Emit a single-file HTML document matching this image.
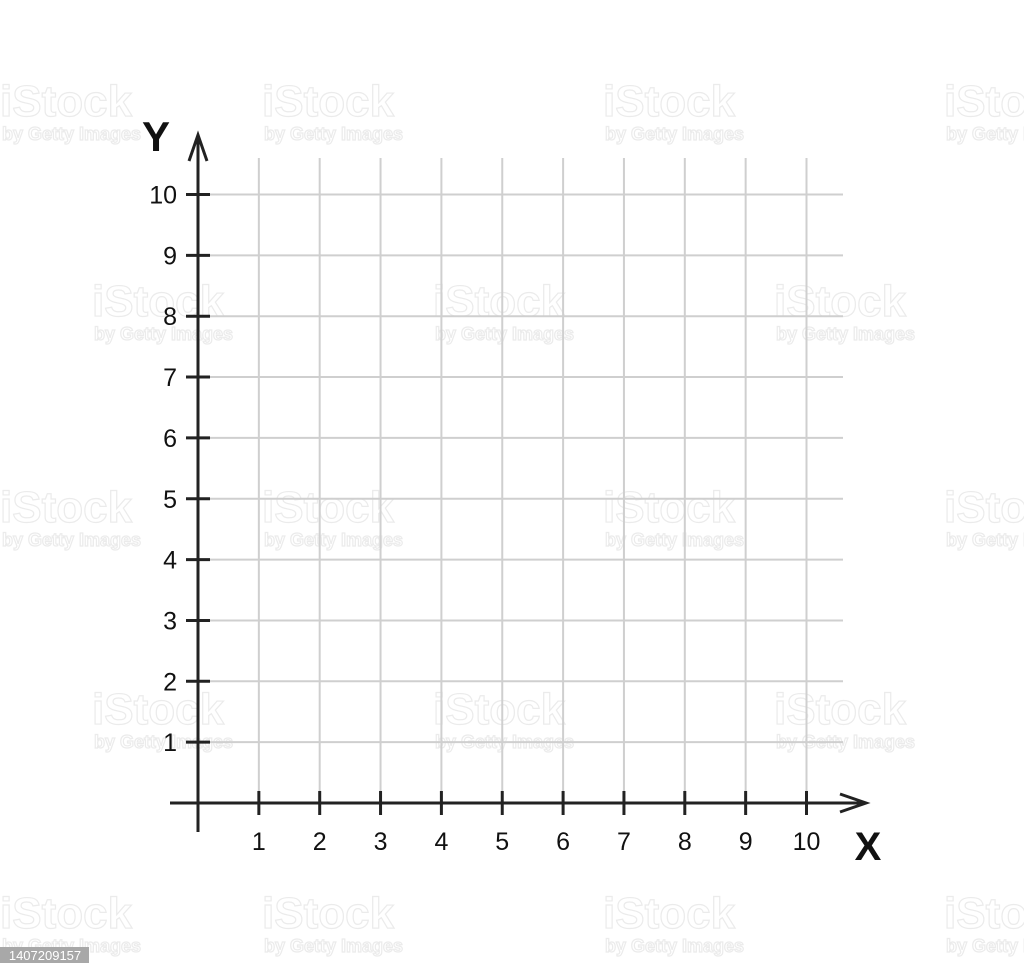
<!DOCTYPE html>
<html><head><meta charset="utf-8"><style>
html,body{margin:0;padding:0;background:#fff;width:1024px;height:976px;overflow:hidden}
svg{display:block}
</style></head><body>
<svg id="chart" width="1024" height="976" xmlns="http://www.w3.org/2000/svg" font-family="'Liberation Sans', sans-serif">
<g id="wm" fill="none" stroke="#ebebeb" stroke-width="1.2" font-weight="bold"></g>
<g id="grid"></g>
<g id="axes"></g>
<rect x="0" y="947" width="89" height="16" fill="#a8a8a8"/>
<text x="45" y="960" text-anchor="middle" font-size="13" fill="#fff">1407209157</text>
</svg>
<script>
const xTicks = [1,2,3,4,5,6,7,8,9,10];
const yTicks = [1,2,3,4,5,6,7,8,9,10];
const xTickLabels = ["1","2","3","4","5","6","7","8","9","10"];
const yTickLabels = ["1","2","3","4","5","6","7","8","9","10"];
const NS="http://www.w3.org/2000/svg";
const x0=198, y0=803, step=60.85;
const sx=v=>x0+v*step, sy=v=>y0-v*step;
function mk(p,tag,a){const e=document.createElementNS(NS,tag);for(const k in a)e.setAttribute(k,a[k]);p.appendChild(e);return e;}
const wm=document.getElementById('wm');
const wmPos=[[0,0],[262,0],[603,0],[944,0],[92,200],[433,200],[774,200],[0,406],[262,406],[603,406],[944,406],[92,608],[433,608],[774,608],[0,812],[262,812],[603,812],[944,812]];
wmPos.forEach(([x,y])=>{
  const t=mk(wm,'text',{x:x,y:y+116,'font-size':44});t.textContent='iStock';
  
  
  const t2=mk(wm,'text',{x:x+2,y:y+140,'font-size':18});t2.textContent='by Getty Images';
  
  
});
const g=document.getElementById('grid');
xTicks.forEach(v=>{const l=mk(g,'line',{x1:sx(v),x2:sx(v),y1:158,y2:y0,stroke:'#cfcfcf','stroke-width':2});
  
  });
yTicks.forEach(v=>{const l=mk(g,'line',{x1:x0,x2:843,y1:sy(v),y2:sy(v),stroke:'#cfcfcf','stroke-width':2});
  
  });
const a=document.getElementById('axes');
const st={stroke:'#222','stroke-width':3,fill:'none'};
let e=mk(a,'line',Object.assign({x1:170,x2:866,y1:y0,y2:y0},st));


e=mk(a,'line',Object.assign({x1:x0,x2:x0,y1:832,y2:135},st));


e=mk(a,'polyline',Object.assign({points:'840,794 866,803 840,812'},st));


e=mk(a,'polyline',Object.assign({points:'189,161 198,135 207,161'},st));


xTicks.forEach((v,i)=>{
  const t=mk(a,'line',Object.assign({x1:sx(v),x2:sx(v),y1:y0-12,y2:y0+12},st));
  
  
  const l=mk(a,'text',{x:sx(v),y:850,'text-anchor':'middle','font-size':25,fill:'#111'});l.textContent=xTickLabels[i];
  
  
});
yTicks.forEach((v,i)=>{
  const t=mk(a,'line',Object.assign({x1:x0-12,x2:x0+12,y1:sy(v),y2:sy(v)},st));
  
  
  const l=mk(a,'text',{x:177,y:sy(v)+9,'text-anchor':'end','font-size':25,fill:'#111'});l.textContent=yTickLabels[i];
  
  
});
e=mk(a,'text',{x:156,y:151,'text-anchor':'middle','font-size':42,'font-weight':'bold',fill:'#111'});e.textContent='Y';


e=mk(a,'text',{x:868,y:860,'text-anchor':'middle','font-size':40,'font-weight':'bold',fill:'#111'});e.textContent='X';


</script>
</body></html>
